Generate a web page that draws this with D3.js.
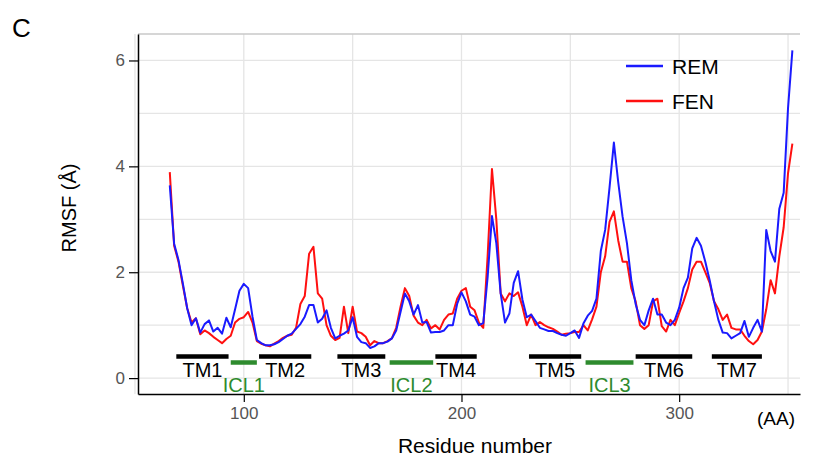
<!DOCTYPE html>
<html>
<head>
<meta charset="utf-8">
<script src="https://d3js.org/d3.v7.min.js"></script>
<style>
  body { margin: 0; background: #fff; }
  text { font-family: "Liberation Sans", Arial, sans-serif; }
</style>
</head>
<body>
<svg width="818" height="457"></svg>
<script>
// residue numbers (every 2nd residue)
var residues = [66,68,70,72,74,76,78,80,82,84,86,88,90,92,94,96,98,100,102,104,106,108,110,112,114,116,118,120,
  122,124,126,128,130,132,134,136,138,140,142,144,146,148,150,152,154,156,158,160,162,164,166,168,170,172,174,176,
  178,180,182,184,186,188,190,192,194,196,198,200,202,204,206,208,210,212,214,216,218,220,222,224,226,228,230,232,
  234,236,238,240,242,244,246,248,250,252,254,256,258,260,262,264,266,268,270,272,274,276,278,280,282,284,286,288,
  290,292,294,296,298,300,302,304,306,308,310,312,314,316,318,320,322,324,326,328,330,332,334,336,338,340,342,344,
  346,348,350,352];

// RMSF values
var rem = [3.64,2.54,2.23,1.79,1.32,1.0,1.13,0.86,1.02,1.09,0.88,0.95,0.84,1.14,0.96,1.3,1.65,1.78,1.7,1.16,
  0.72,0.66,0.62,0.62,0.64,0.68,0.74,0.8,0.84,0.93,1.02,1.16,1.38,1.38,1.05,1.12,1.28,0.95,0.75,0.8,
  0.84,0.9,1.15,0.78,0.68,0.66,0.57,0.6,0.66,0.66,0.69,0.75,0.9,1.25,1.6,1.45,1.2,1.38,1.05,1.06,
  0.86,0.87,0.87,0.9,1.0,1.0,1.4,1.62,1.45,1.2,1.16,1.0,1.04,1.9,3.06,2.55,1.6,1.05,1.22,1.8,
  2.02,1.48,1.15,1.2,1.08,0.95,0.92,0.89,0.89,0.85,0.82,0.8,0.85,0.9,0.76,1.03,1.18,1.27,1.5,2.4,
  2.8,3.6,4.45,3.7,3.05,2.55,1.85,1.4,1.1,1.0,1.28,1.5,1.2,1.2,1.05,1.0,1.1,1.33,1.7,1.9,
  2.45,2.65,2.5,2.2,1.85,1.45,1.1,0.86,0.85,0.75,0.8,0.85,1.08,0.78,0.95,1.1,0.88,2.8,2.4,2.2,
  3.2,3.5,5.1,6.19];

var fen = [3.89,2.5,2.2,1.75,1.32,1.05,1.13,0.83,0.9,0.85,0.78,0.72,0.66,0.74,0.8,1.05,1.12,1.15,1.25,1.05,
  0.7,0.65,0.62,0.6,0.65,0.7,0.76,0.8,0.82,0.95,1.4,1.55,2.35,2.48,1.6,1.5,1.0,0.8,0.72,0.76,
  1.35,0.85,1.35,0.88,0.85,0.78,0.62,0.7,0.66,0.66,0.7,0.75,0.95,1.35,1.7,1.55,1.18,1.05,1.0,1.1,
  0.94,1.0,0.92,1.1,1.2,1.22,1.5,1.65,1.7,1.35,1.28,1.05,0.95,2.3,3.95,3.0,1.6,1.45,1.6,1.55,
  1.62,1.35,1.0,1.2,1.0,1.06,1.0,0.96,0.93,0.88,0.82,0.84,0.85,0.87,0.87,1.0,0.9,1.11,1.35,2.0,
  2.3,2.95,3.15,2.6,2.2,2.2,1.7,1.45,1.0,0.93,1.0,1.45,1.5,0.98,0.88,1.1,1.0,1.23,1.45,1.7,
  2.05,2.2,2.2,2.0,1.8,1.45,1.3,1.1,1.2,0.95,0.92,0.92,0.8,0.7,0.64,0.72,0.88,1.3,1.85,1.6,
  2.3,2.85,3.87,4.43];

// protein regions
var regionNames = ["TM1","ICL1","TM2","TM3","ICL2","TM4","TM5","ICL3","TM6","TM7"];
var regionStart = [69,94,107,143,167,188,231,257,280,315];
var regionEnd   = [93,106,131,165,187,207,255,279,306,338];
var regionType  = ["TM","ICL","TM","TM","ICL","TM","TM","ICL","TM","TM"];

var xTicks = [100,200,300];
var yTicks = [0,2,4,6];
var xGrid = [50,100,150,200,250,300,350];
var yGrid = [0,1,2,3,4,5,6];

var svg = d3.select("svg");
var xs = d3.scaleLinear().domain([51.4,355.5]).range([138,800]);
var ys = d3.scaleLinear().domain([-0.3,6.5]).range([394,34]);

//grid
svg.append("g").selectAll("line").data(xGrid).enter().append("line")
   .attr("x1", d => xs(d)).attr("x2", d => xs(d))
   .attr("y1", 34).attr("y2", 394)
   .attr("stroke", "#e5e5e5").attr("stroke-width", 1.3);
svg.append("g").selectAll("line").data(yGrid).enter().append("line")
   .attr("x1", 138).attr("x2", 800)
   .attr("y1", d => ys(d)).attr("y2", d => ys(d))
   .attr("stroke", "#e5e5e5").attr("stroke-width", 1.3);

//top border
svg.append("line").attr("x1",138).attr("x2",800).attr("y1",34).attr("y2",34)
   .attr("stroke","#c8c8c8").attr("stroke-width",1.5);

//axes
var yAxis = svg.append("g").attr("transform","translate(138,0)")
   .call(d3.axisLeft(ys).tickValues(yTicks).tickFormat(d3.format("d"))
           .tickSizeInner(9).tickSizeOuter(0).tickPadding(4));
var xAxis = svg.append("g").attr("transform","translate(0,394)")
   .call(d3.axisBottom(xs).tickValues(xTicks).tickFormat(d3.format("d"))
           .tickSizeInner(8).tickSizeOuter(0).tickPadding(5));
[yAxis, xAxis].forEach(function(a){
  a.select(".domain").attr("stroke","#000").attr("stroke-width",1.5);
  a.selectAll(".tick line").attr("stroke","#000").attr("stroke-width",1.2);
  a.selectAll(".tick text").attr("fill","#555").style("font-size","17px")
   .style("font-family","'Liberation Sans', Arial, sans-serif");
});

//lines
var pts = residues.map(function(r,i){ return {r:r, rem:rem[i], fen:fen[i]}; });
var lineFen = d3.line().x(d => xs(d.r)).y(d => ys(d.fen));
var lineRem = d3.line().x(d => xs(d.r)).y(d => ys(d.rem));
svg.append("path").datum(pts).attr("d", lineFen)
   .attr("fill","none").attr("stroke","#ff1010").attr("stroke-width",2).attr("stroke-linejoin","round");
svg.append("path").datum(pts).attr("d", lineRem)
   .attr("fill","none").attr("stroke","#1a1aff").attr("stroke-width",2).attr("stroke-linejoin","round");

//regions
var regions = regionNames.map(function(n,i){
  return {name:n, s:regionStart[i], e:regionEnd[i], t:regionType[i]};
});
var green = "#2e8b2e";
svg.append("g").selectAll("line").data(regions).enter().append("line")
   .attr("x1", d => xs(d.s)).attr("x2", d => xs(d.e))
   .attr("y1", d => d.t=="TM" ? 356.5 : 362.5).attr("y2", d => d.t=="TM" ? 356.5 : 362.5)
   .attr("stroke", d => d.t=="TM" ? "#000" : green).attr("stroke-width",4.5);
svg.append("g").selectAll("text").data(regions).enter().append("text")
   .attr("x", d => xs((d.s+d.e)/2)).attr("y", d => d.t=="TM" ? 377 : 392)
   .attr("text-anchor","middle")
   .style("font-size","20px")
   .attr("fill", d => d.t=="TM" ? "#000" : green)
   .text(d => d.name);

//legend
var legNames = ["REM","FEN"];
var legColors = ["#1a1aff","#ff1010"];
legNames.forEach(function(n,i){
  var yy = 66 + i*35;
  svg.append("line").attr("x1",626).attr("x2",663).attr("y1",yy).attr("y2",yy)
     .attr("stroke",legColors[i]).attr("stroke-width",2.5);
  svg.append("text").attr("x",672).attr("y",yy+8).style("font-size","21px").attr("fill","#000").text(n);
});

//labels
svg.append("text").attr("x",12).attr("y",37).style("font-size","26px").text("C");
svg.append("text").attr("transform","translate(76,208) rotate(-90)")
   .attr("text-anchor","middle").style("font-size","20px").text("RMSF (Å)");
svg.append("text").attr("x",475).attr("y",453).attr("text-anchor","middle")
   .style("font-size","21px").text("Residue number");
svg.append("text").attr("x",757).attr("y",425).style("font-size","19px").text("(AA)");
</script>
</body>
</html>
